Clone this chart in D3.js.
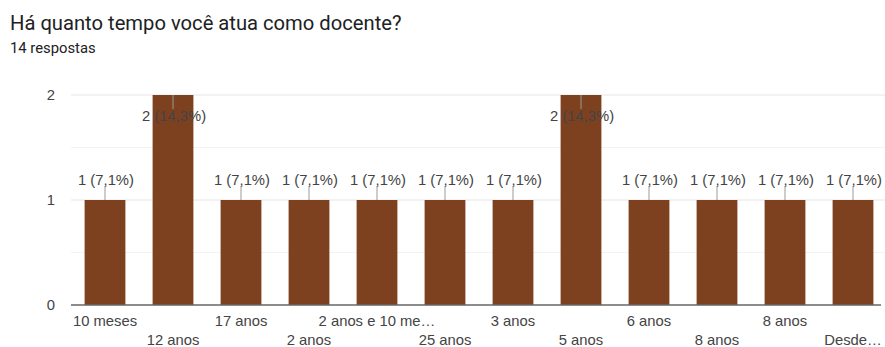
<!DOCTYPE html>
<html>
<head>
<meta charset="utf-8">
<script src="https://cdn.jsdelivr.net/npm/d3@7"></script>
<style>
  body { margin: 0; background: #fff; }
  svg { display: block; }
</style>
</head>
<body>
<svg id="chart"></svg>
<script>
// respostas por categoria
const categories = ["10 meses", "12 anos", "17 anos", "2 anos", "2 anos e 10 me…", "25 anos",
                    "3 anos", "5 anos", "6 anos", "8 anos", "8 anos ", "Desde…"];
const counts = [1, 2, 1, 1, 1, 1, 1, 2, 1, 1, 1, 1];
const percents = ["7,1%", "14,3%", "7,1%", "7,1%", "7,1%", "7,1%", "7,1%", "14,3%", "7,1%", "7,1%", "7,1%", "7,1%"];
const yTicks = [0, 1, 2];

const width = 885, height = 347;
const margins = { top: 95, bottom: 42, left: 71, right: 0 };
const barColor = "#7d4120";
const chartFont = "'Liberation Sans', Arial, sans-serif";
const chartSize = 14.8;

const svg = d3.select("#chart").attr("width", width).attr("height", height);

svg.append("text")
   .attr("x", 10).attr("y", 30)
   .attr("font-family", "Roboto, sans-serif")
   .attr("font-size", 20.2)
   .attr("fill", "#202124")
   .text("Há quanto tempo você atua como docente?");

svg.append("text")
   .attr("x", 10).attr("y", 53)
   .attr("font-family", "Roboto, sans-serif")
   .attr("font-size", 14.8)
   .attr("fill", "#202124")
   .text("14 respostas");

const x = d3.scaleBand()
            .domain(categories)
            .range([margins.left, margins.left + 68 * 12])
            .paddingInner(0.4)
            .paddingOuter(0.2);

const y = d3.scaleLinear()
            .domain([0, 2])
            .range([height - margins.bottom, margins.top]);

// linhas de grade (menores e principais)
svg.append("g")
   .selectAll("line")
   .data([0.5, 1.5])
   .join("line")
   .attr("x1", margins.left).attr("x2", width)
   .attr("y1", d => y(d)).attr("y2", d => y(d))
   .attr("stroke", "#f3f3f3");

svg.append("g")
   .selectAll("line")
   .data([1, 2])
   .join("line")
   .attr("x1", margins.left).attr("x2", width)
   .attr("y1", d => y(d)).attr("y2", d => y(d))
   .attr("stroke", "#e6e6e6");

// eixo y
const yAxis = svg.append("g")
   .attr("transform", `translate(${margins.left},0)`)
   .call(d3.axisLeft(y).tickValues(yTicks).tickFormat(d3.format("d")).tickSize(0).tickPadding(16));
yAxis.select(".domain").remove();
yAxis.selectAll("text")
     .attr("font-family", chartFont)
     .attr("font-size", chartSize)
     .attr("fill", "#444");

// barras
svg.append("g")
   .selectAll("rect")
   .data(counts)
   .join("rect")
   .attr("x", (d, i) => x(categories[i]))
   .attr("width", x.bandwidth())
   .attr("y", d => y(d))
   .attr("height", d => y(0) - y(d))
   .attr("fill", barColor);

// linha de base
svg.append("line")
   .attr("x1", margins.left).attr("x2", width - 4)
   .attr("y1", y(0)).attr("y2", y(0))
   .attr("stroke", "#666").attr("stroke-width", 1.3);

// rótulos dos valores com linha guia
const labels = svg.append("g");
counts.forEach((d, i) => {
  const cx = x(categories[i]) + x.bandwidth() / 2;
  const top = y(d);
  const inside = d === 2;
  const lineEnd = inside ? top + 14 : top - 14;
  labels.append("line")
        .attr("x1", cx).attr("x2", cx)
        .attr("y1", top).attr("y2", lineEnd)
        .attr("stroke", "#999");
  labels.append("text")
        .attr("x", cx + 1)
        .attr("y", inside ? top + 26 : top - 15)
        .attr("text-anchor", "middle")
        .attr("font-family", chartFont)
        .attr("font-size", chartSize)
        .attr("fill", "#444")
        .text(`${d} (${percents[i]})`);
});

// rótulos do eixo x (alternados)
const xAxis = svg.append("g")
   .attr("transform", `translate(0,${y(0)})`)
   .call(d3.axisBottom(x).tickSize(0).tickPadding(0));
xAxis.select(".domain").remove();
xAxis.selectAll("text")
     .attr("font-family", chartFont)
     .attr("font-size", chartSize)
     .attr("fill", "#444")
     .attr("dy", null)
     .attr("y", (d, i) => i % 2 === 0 ? 21 : 39.5);
</script>
</body>
</html>
